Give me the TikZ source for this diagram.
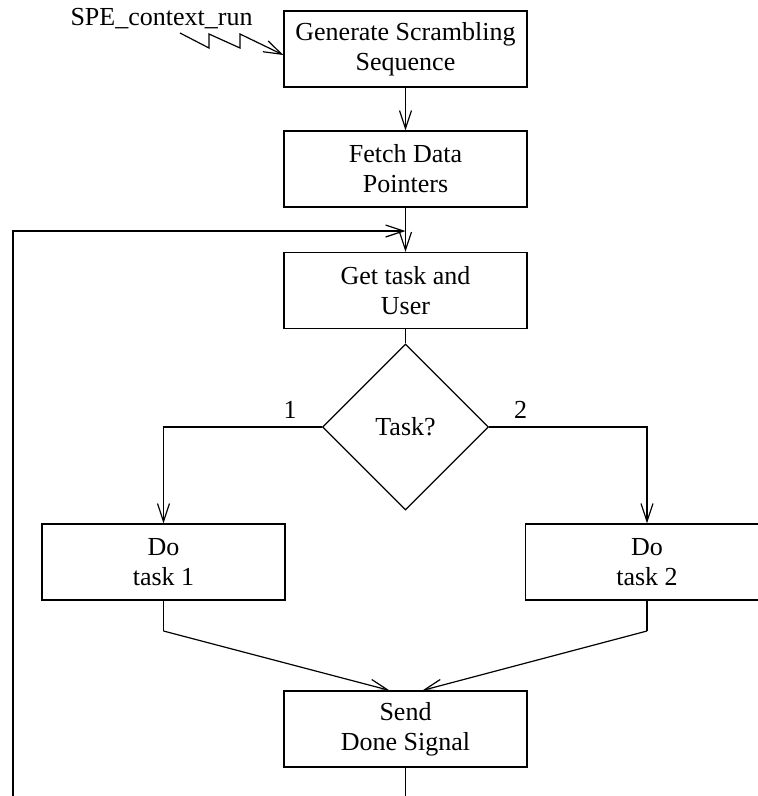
\documentclass[tikz,border=0pt]{standalone}
\usepackage{fontspec}
\setmainfont{Liberation Serif}
\usetikzlibrary{arrows.meta,shapes.geometric}

\tikzset{
  txt/.style={font=\fontsize{26}{30}\selectfont},
  stepbox/.style={txt, draw, line width=1.2pt, minimum width=243pt, minimum height=76pt,
    inner sep=0pt, align=center},
  decision/.style={txt, draw, line width=1.2pt, diamond, minimum width=166pt,
    minimum height=166pt, inner sep=0pt, align=center},
  flow/.style={line width=1.2pt, -{Straight Barb[length=18pt,width=12pt,line width=1.2pt]}},
  plain/.style={line width=1.2pt},
  branch/.style={txt, above, inner sep=8pt}
}

\begin{document}
\begin{tikzpicture}[x=1pt, y=-1pt]
  \useasboundingbox (0,0) rectangle (758,796);
  \clip (0,0) rectangle (758,796);

  % process steps
  \node[stepbox] (gen)   at (405.5,49)  {Generate Scrambling\\Sequence};
  \node[stepbox] (fetch) at (405.5,169) {Fetch Data\\Pointers};
  \node[stepbox] (get)   at (405.5,290.5) {Get task and\\User};
  \node[decision] (task) at (405.5,427) {Task?};
  \node[stepbox] (do1)   at (163.5,562) {Do\\task 1};
  \node[stepbox] (do2)   at (647,562)   {Do\\task 2};
  \node[stepbox] (send)  at (405.5,729) {Send\\Done Signal};

  % trigger
  \node[txt, anchor=base, inner sep=0pt] (trig) at (161.5,25) {SPE\_context\_run};
  \coordinate (zz) at (180,33);
  \draw[flow] (zz) -- (209,48) -- (209,34) -- (240,48) -- (240,34)
    -- ([yshift=-6pt]gen.west);

  % main sequence
  \draw[flow] (gen) -- (fetch);
  \draw[flow] (fetch) -- (get);
  \draw[plain] (get) -- (task);

  % branches
  \draw[flow] (task.west) -| node[branch, pos=0.1] {1} (do1.north);
  \draw[flow] (task.east) -| node[branch, pos=0.1] {2} (do2.north);

  % merge
  \coordinate (m1) at (163.5,631);
  \coordinate (m2) at (647,631);
  \draw[plain] (do1.south) -- (m1);
  \draw[flow] (m1) -- ([xshift=-16pt]send.north);
  \draw[plain] (do2.south) -- (m2);
  \draw[flow] (m2) -- ([xshift=17pt]send.north);

  % loop back
  \coordinate (lb) at (405.5,815);
  \coordinate (ll) at (13,815);
  \coordinate (lt) at (13,231);
  \coordinate (join) at (405.5,231);
  \draw[flow] (send.south) -- (lb) -- (ll) -- (lt) -- (join);
\end{tikzpicture}
\end{document}
